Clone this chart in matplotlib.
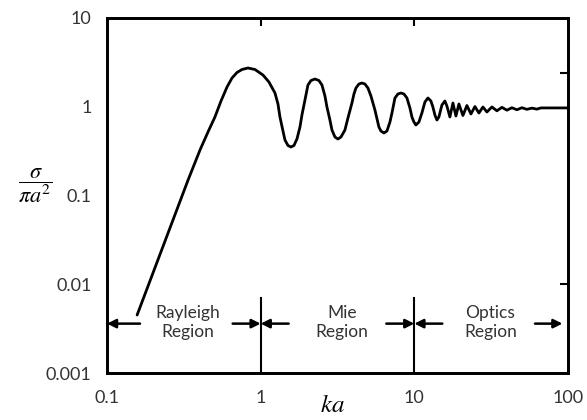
import matplotlib
matplotlib.use("Agg")
import matplotlib.pyplot as plt
from matplotlib.ticker import FixedLocator, NullLocator, NullFormatter, FixedFormatter

# ---- data (ka, sigma / pi a^2) ----
ka = [0.157, 0.337, 0.403, 0.454, 0.504, 0.552, 0.604, 0.651, 0.701, 0.756,
      0.827, 0.918, 1.035, 1.132, 1.239, 1.296, 1.335, 1.397, 1.439, 1.505,
      1.574, 1.647, 1.722, 1.802, 1.856, 1.942, 2.031, 2.125, 2.256, 2.395,
      2.505, 2.620, 2.700, 2.823, 2.910, 3.044, 3.184, 3.330, 3.535, 3.698,
      3.926, 4.046, 4.169, 4.360, 4.560, 4.770, 4.990, 5.219, 5.541, 5.882,
      6.062, 6.342, 6.633, 6.939, 7.151, 7.479, 7.822, 8.181, 8.556, 8.949,
      9.361, 9.645, 9.940, 10.24, 10.71, 11.20, 11.72, 12.26, 12.82, 13.21,
      13.61, 14.03, 14.45, 15.12, 15.81, 16.29, 17.04, 17.83, 18.65, 19.50,
      20.71, 21.99, 23.35, 24.79, 26.32, 27.95, 29.68, 31.98, 34.45, 37.14,
      40.04, 43.14, 46.51, 50.12, 54.01, 58.23, 62.76, 66.63, 100.0]
rcs = [0.0045, 0.1495, 0.326, 0.519, 0.767, 1.161, 1.669, 2.108, 2.431, 2.629,
       2.733, 2.629, 2.279, 1.900, 1.429, 1.074, 0.767, 0.533, 0.422, 0.366,
       0.352, 0.366, 0.433, 0.591, 0.807, 1.191, 1.758, 1.975, 2.054, 1.975,
       1.758, 1.322, 0.993, 0.709, 0.547, 0.456, 0.433, 0.456, 0.547, 0.747,
       1.102, 1.392, 1.626, 1.804, 1.852, 1.804, 1.626, 1.322, 0.919, 0.591,
       0.533, 0.506, 0.533, 0.673, 0.850, 1.255, 1.392, 1.429, 1.392, 1.255,
       0.968, 0.767, 0.673, 0.623, 0.673, 0.850, 1.131, 1.255, 1.161, 0.993,
       0.807, 0.709, 0.767, 1.046, 1.161, 1.020, 0.767, 1.102, 0.786, 1.074,
       0.797, 1.033, 0.829, 1.006, 0.850, 0.993, 0.873, 0.995, 0.900, 0.985,
       0.915, 0.975, 0.925, 0.975, 0.935, 0.965, 0.940, 0.970, 0.970]

x_ticks = [0.1, 1, 10, 100]
x_tick_labels = ["0.1", "1", "10", "100"]
y_ticks = [0.001, 0.01, 0.1, 1, 10]
y_tick_labels = ["0.001", "0.01", "0.1", "1", "10"]

region_bounds = [1, 10]
region_names = ["Rayleigh\nRegion", "Mie\nRegion", "Optics\nRegion"]
region_label_x = [0.336, 3.38, 31.3]
arrow_level = 0.0036
label_level = 0.0037

# ---- figure ----
fig = plt.figure(figsize=(5.87, 4.2), dpi=100)
ax = fig.add_axes([107/587, 1-373/420, 461/587, 355/420])
ax.set_xscale("log")
ax.set_yscale("log")
ax.set_xlim(0.1, 100)
ax.set_ylim(0.001, 10)

ax.plot(ka, rcs, color="black", lw=2.0, solid_joinstyle="round", solid_capstyle="round")

for s in ax.spines.values():
    s.set_linewidth(1.8)

font = "Lato"
ax.xaxis.set_major_locator(FixedLocator(x_ticks))
ax.xaxis.set_major_formatter(FixedFormatter(x_tick_labels))
ax.xaxis.set_minor_locator(NullLocator())
ax.yaxis.set_major_locator(FixedLocator(y_ticks))
ax.yaxis.set_major_formatter(FixedFormatter(y_tick_labels))
ax.yaxis.set_minor_locator(FixedLocator([0.01, 0.1]))
ax.yaxis.set_minor_formatter(NullFormatter())
ax.tick_params(axis="x", which="major", length=0, pad=12, labelsize=13, labelfontfamily=font, colors="#333333")
ax.tick_params(axis="y", which="major", length=0, pad=11, labelsize=13, labelfontfamily=font, colors="#333333")
ax.tick_params(axis="y", which="minor", length=6, width=1.5, direction="in", color="black")

# top ticks
axt = ax.twiny()
axt.set_xscale("log")
axt.set_xlim(0.1, 100)
axt.xaxis.set_major_locator(FixedLocator([1, 10]))
axt.xaxis.set_minor_locator(NullLocator())
axt.xaxis.set_major_formatter(NullFormatter())
axt.tick_params(axis="x", length=6, width=1.5, direction="in")
# right ticks
axr = ax.twinx()
axr.set_yscale("log")
axr.set_ylim(0.001, 10)
axr.yaxis.set_major_locator(FixedLocator([0.01, 2.4]))
axr.yaxis.set_minor_locator(NullLocator())
axr.yaxis.set_major_formatter(NullFormatter())
axr.tick_params(axis="y", length=6, width=1.5, direction="in")
for a in (axt, axr):
    for s in a.spines.values():
        s.set_linewidth(1.8)

# region boundary lines
for b in region_bounds:
    ax.axvline(b, ymin=0, ymax=0.21, color="black", lw=1.5)

arrow_kw = dict(arrowstyle="-|>", color="black", lw=1.8, mutation_scale=13,
                shrinkA=0, shrinkB=0)
px = 0.72  # points per pixel
ax.annotate("", xy=(0.1, arrow_level), xytext=(33*px, 0), textcoords="offset points", arrowprops=arrow_kw)
for b in region_bounds:
    ax.annotate("", xy=(b, arrow_level), xytext=(-28*px, 0), textcoords="offset points", arrowprops=arrow_kw)
    ax.annotate("", xy=(b, arrow_level), xytext=(28*px, 0), textcoords="offset points", arrowprops=arrow_kw)
ax.annotate("", xy=(100, arrow_level), xytext=(-33*px, 0), textcoords="offset points",
            arrowprops=dict(arrow_kw, shrinkB=4))

for name, xc in zip(region_names, region_label_x):
    ax.text(xc, label_level, name, ha="center", va="center", fontsize=12.5,
            family=font, color="#333333", linespacing=1.25)

plt.rcParams["mathtext.fontset"] = "stix"
fig.text(35/587, 1-186/420, r"$\dfrac{\sigma}{\pi a^{2}}$", ha="center", va="center", fontsize=16)
fig.text(333/587, 1-405/420, r"$ka$", ha="center", va="center", fontsize=18)

fig.savefig("out.png", dpi=100)
